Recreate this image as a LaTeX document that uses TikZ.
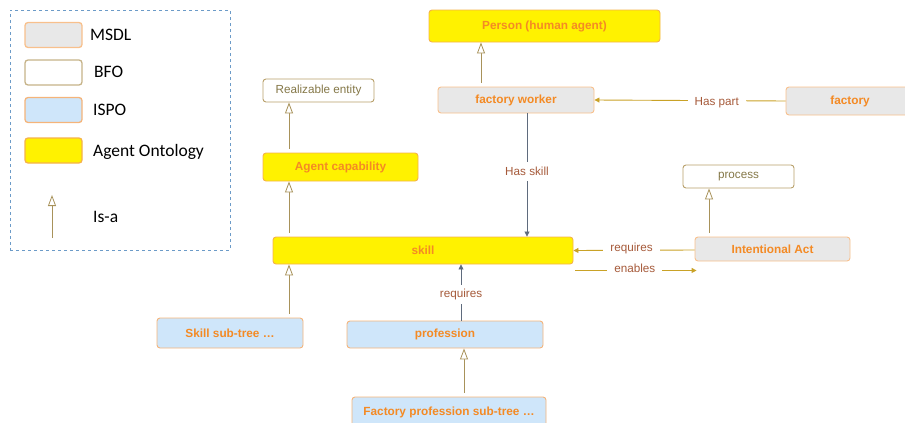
\documentclass[tikz,border=0pt]{standalone}
\usepackage{fontspec}
\setmainfont{Liberation Sans}
\newfontfamily\legendfont{Carlito}
\usetikzlibrary{arrows.meta}
\definecolor{nodetxt}{HTML}{F48A24}
\definecolor{msdlfill}{HTML}{E8E8E8}
\definecolor{msdlline}{HTML}{F8C08C}
\definecolor{yelline}{HTML}{F5B24A}
\definecolor{blufill}{HTML}{CFE6FA}
\definecolor{bluline}{HTML}{F5B47A}
\definecolor{bfoline}{HTML}{B8A06A}
\definecolor{bfotxt}{HTML}{857848}
\definecolor{isacol}{HTML}{A8925A}
\definecolor{reltxt}{HTML}{A65A3A}
\definecolor{goldline}{HTML}{C9A227}
\definecolor{slate}{HTML}{5F6B7D}
\definecolor{legline}{HTML}{6C9BC8}
\tikzset{
  base/.style={rectangle, rounded corners=3pt, line width=0.9pt, inner sep=0pt, anchor=center},
  msdl/.style={base, draw=msdlline, fill=msdlfill, text=nodetxt, font=\fontsize{11.8}{13}\selectfont\bfseries},
  bfo/.style={base, draw=bfoline, fill=white, text=bfotxt, font=\fontsize{11.7}{13}\selectfont},
  ispo/.style={base, draw=bluline, fill=blufill, text=nodetxt, font=\fontsize{11.8}{13}\selectfont\bfseries},
  agent/.style={base, draw=yelline, fill=yellow, text=nodetxt, font=\fontsize{11.8}{13}\selectfont\bfseries},
  swatch/.style={rectangle, rounded corners=3pt, line width=1.3pt, minimum width=57pt, minimum height=25pt, inner sep=0pt},
  legtxt/.style={anchor=west, inner sep=0pt, font=\legendfont\fontsize{17.5}{19}\selectfont},
  isa/.style={draw=isacol, line width=0.8pt, shorten <=4pt, -{Triangle[open, length=11pt, width=8pt, fill=white]}},
  rel/.style={draw=goldline, line width=0.9pt, -{Triangle[length=5pt, width=5pt]}},
  relslate/.style={draw=slate, line width=0.8pt, -{Triangle[length=5pt, width=5pt]}},
  rellab/.style={fill=white, text=reltxt, inner xsep=7pt, inner ysep=2pt, font=\fontsize{11.7}{13}\selectfont},
  vlab/.style={rellab, inner xsep=2pt, inner ysep=5pt},
}
\begin{document}
\begin{tikzpicture}[x=1pt, y=-1pt]
\useasboundingbox (0,0) rectangle (905,423);
% legend
\node[draw=legline, dashed, line width=0.8pt, minimum width=220pt, minimum height=240pt, inner sep=0pt] (legend) at (120,130) {};
\node[swatch, draw=msdlline, fill=msdlfill] (lmsdl) at (53.5,35) {};
\node[legtxt] (tmsdl) at (90,35) {MSDL};
\node[swatch, draw=bfoline!80, fill=white] (lbfo) at (53.5,72.5) {};
\node[legtxt] (tbfo) at (94,72) {BFO};
\node[swatch, draw=bluline, fill=blufill] (lispo) at (53.5,110) {};
\node[legtxt] (tispo) at (93,110) {ISPO};
\node[swatch, draw=yelline, fill=yellow] (lagent) at (53.5,150.5) {};
\node[legtxt] (tagent) at (93,152) {Agent Ontology};
\coordinate (isafrom) at (52,238);
\coordinate (isato) at (52,195);
\draw[isa, shorten <=0pt] (isafrom) -- (isato);
\node[legtxt] (tisa) at (93,217) {Is-a};
% nodes
\node[agent, minimum width=231pt, minimum height=32pt] (person) at (544.5,26) {Person (human agent)};
\node[msdl, minimum width=156pt, minimum height=26pt] (worker) at (516,100) {factory worker};
\node[msdl, minimum width=128pt, minimum height=28pt] (factory) at (850,101) {factory};
\node[bfo, minimum width=111pt, minimum height=23pt] (realiz) at (318.5,90.5) {Realizable entity};
\node[agent, minimum width=155pt, minimum height=28pt] (ac) at (340.5,167) {Agent capability};
\node[agent, minimum width=300pt, minimum height=27pt] (skill) at (423,250.5) {skill};
\node[bfo, minimum width=111pt, minimum height=23pt] (process) at (738.5,176.5) {process};
\node[msdl, minimum width=155pt, minimum height=24pt] (intent) at (772.5,249) {Intentional Act};
\node[ispo, minimum width=146pt, minimum height=30pt] (skillsub) at (230,333) {Skill sub-tree \dots};
\node[ispo, minimum width=196pt, minimum height=27pt] (prof) at (445,334.5) {profession};
\node[ispo, minimum width=194pt, minimum height=30pt] (factprof) at (449,412) {Factory profession sub-tree \dots};
% is-a
\draw[isa] ([xshift=-35pt]worker.north) -- ([xshift=-63.5pt]person.south);
\draw[isa] ([xshift=-51.5pt]ac.north) -- ([xshift=-29.5pt]realiz.south);
\draw[isa] ([xshift=-134pt]skill.north) -- ([xshift=-51.5pt]ac.south);
\draw[isa] ([xshift=59pt]skillsub.north) -- ([xshift=-134pt]skill.south);
\draw[isa] ([xshift=-63.5pt]intent.north) -- ([xshift=-29.5pt]process.south);
\draw[isa] ([xshift=15pt]factprof.north) -- ([xshift=19pt]prof.south);
% relations
\draw[rel] (factory.west) -- node[rellab, pos=0.36, yshift=-2pt] (lhaspart) {Has part} (worker.east);
\draw[relslate] ([xshift=11pt]worker.south) -- node[vlab, pos=0.47] (lhasskill) {Has skill} ([xshift=104pt]skill.north);
\draw[rel] ([yshift=-1pt]intent.west) -- node[rellab, pos=0.52, yshift=2pt] (lreq) {requires} (skill.east);
\coordinate (enfrom) at ([shift={(2pt,-6pt)}]skill.south east);
\coordinate (ento) at ([shift={(2pt,-9pt)}]intent.south west);
\draw[rel] (enfrom) -- node[rellab, pos=0.49, yshift=2pt] (lenab) {enables} (ento);
\draw[relslate] ([xshift=16pt]prof.north) -- node[vlab, inner ysep=4pt, pos=0.46] (lreq2) {requires} ([xshift=38pt]skill.south);
\end{tikzpicture}
\end{document}
